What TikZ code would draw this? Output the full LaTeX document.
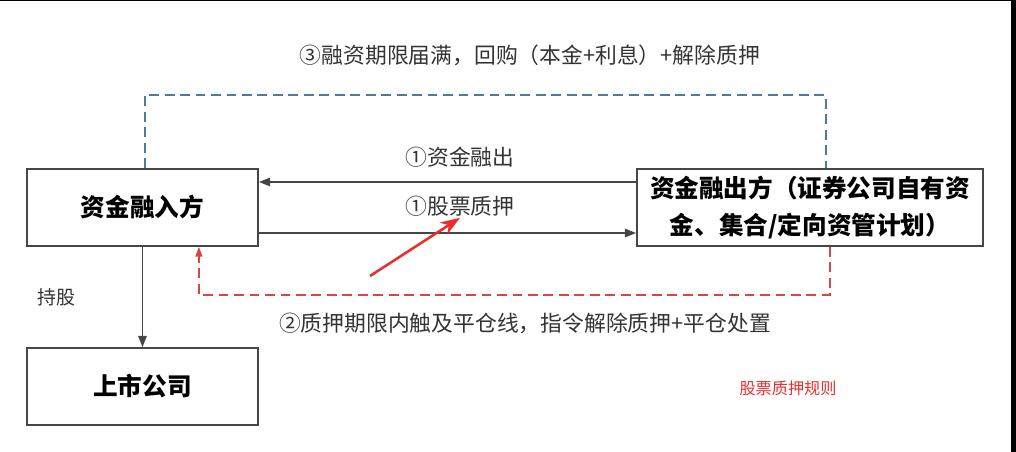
\documentclass[tikz,border=0pt]{standalone}
\usepackage{fontspec}
\setmainfont{Noto Sans CJK SC}
\usetikzlibrary{positioning, arrows.meta, calc}
\definecolor{myblue}{RGB}{70,125,160}
\definecolor{myred}{RGB}{215,70,70}
\definecolor{mygray}{RGB}{70,70,70}
\definecolor{hlred}{RGB}{235,45,45}

\begin{document}
\begin{tikzpicture}[
   x=0.025cm, y=-0.025cm,
         partyNode/.style = {rectangle, draw=mygray, line width=1.2pt, align=center, inner sep=0pt,
                             minimum width=5.775cm, minimum height=1.925cm, font=\fontsize{17.5}{26}\selectfont\bfseries},
         stepLabel/.style = {inner sep=1pt, text=black!80, font=\fontsize{15.5}{18}\selectfont},
         myarrow/.style   = {draw=mygray, line width=1.2pt, -{Triangle[length=8pt, width=6pt]}},
         bluedash/.style  = {draw=myblue, line width=1pt, dash pattern=on 7pt off 4pt},
         reddash/.style   = {draw=myred, line width=1pt, dash pattern=on 7pt off 4pt, -{Triangle[length=7pt, width=5pt]}},
         hilite/.style    = {draw=hlred, line width=1.8pt, -{Stealth[length=14pt, width=10pt]}}
]
    \useasboundingbox (0,0) rectangle (1016,452);
    % frame edges of the screenshot
    \fill[black] (0,0) rectangle (1016,1.5);
    \fill[black] (1011,0) rectangle (1016,452);

    \node[partyNode] (borrower) at (142.5,207.5) {资金融入方};
    \node[partyNode, minimum width=8.65cm] (lender) at (810,207.5) {资金融出方（证券公司自有资\\金、集合/定向资管计划）};
    \node[partyNode] (listed) at (142.5,386.5) {上市公司};

    \node[stepLabel] (fundlabel) at (460,157) {①资金融出};
    \node[stepLabel] (pledgelabel) at (460,206) {①股票质押};

    \draw[myarrow] ([yshift=0.6375cm]lender.west) -- ([yshift=0.6375cm]borrower.east);
    \draw[myarrow] ([yshift=-0.6375cm]borrower.east) -- ([yshift=-0.6375cm]lender.west);

    % repurchase at maturity
    \node[stepLabel] (repay) at (530,55) {③融资期限届满，回购（本金+利息）+解除质押};
    \coordinate (bluecorner) at (826,95);
    \draw[bluedash] ([xshift=0.0625cm]borrower.north) |- (bluecorner) -- (bluecorner |- lender.north);

    % forced liquidation
    \node[stepLabel] (margin) at (525,323) {②质押期限内触及平仓线，指令解除质押+平仓处置};
    \coordinate (redcorner) at (830,295);
    \draw[reddash] (redcorner |- lender.south) -- (redcorner) -| ([xshift=1.41cm]borrower.south);

    \node[font=\fontsize{13.5}{16}\selectfont, text=black!80] (holding) at (56,297) {持股};
    \draw[myarrow] (borrower.south) -- (listed.north);

    \coordinate (hltail) at (370,276);
    \draw[hilite] (hltail) -- (pledgelabel.south);

    \node[text=hlred, font=\fontsize{11.5}{14}\selectfont] (rulestitle) at (788,388) {股票质押规则};
\end{tikzpicture}
\end{document}
